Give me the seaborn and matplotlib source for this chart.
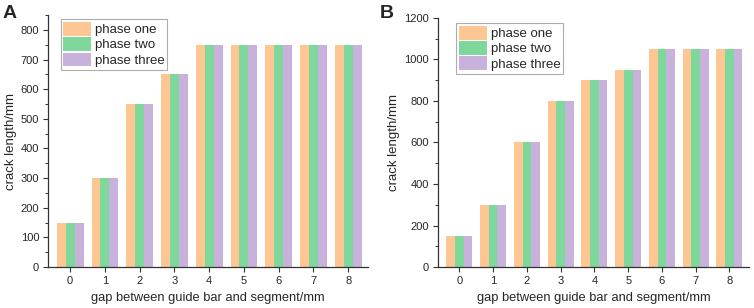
import matplotlib
matplotlib.use("Agg")
import matplotlib.pyplot as plt
import seaborn as sns
import pandas as pd
from matplotlib.ticker import MultipleLocator

# gap between guide bar and segment (mm)
gaps = [0, 1, 2, 3, 4, 5, 6, 7, 8]
phases = ['phase one', 'phase two', 'phase three']

# crack length (mm), the three phases coincide in both panels
crack_a = [150, 300, 550, 650, 750, 750, 750, 750, 750]
crack_b = [150, 300, 600, 800, 900, 950, 1050, 1050, 1050]

colors = ['#FDC692', '#7ED79B', '#C8B1DB']

sns.set_theme(style='ticks')
plt.rcParams['font.family'] = ['Liberation Sans', 'DejaVu Sans']


def long_df(values):
    rows = []
    for ph in phases:
        for g, v in zip(gaps, values):
            rows.append({'gap': g, 'phase': ph, 'length': v})
    return pd.DataFrame(rows)


fig = plt.figure(figsize=(7.54, 3.08), dpi=100)
ax_a = fig.add_axes([0.064, 0.133, 0.424, 0.818])
ax_b = fig.add_axes([0.581, 0.133, 0.412, 0.809])

panels = [
    (ax_a, crack_a, 850, 100, (0.035, 0.99)),
    (ax_b, crack_b, 1200, 200, (0.055, 0.985)),
]

for ax, vals, ymax, step, anchor in panels:
    df = long_df(vals)
    sns.barplot(data=df, x='gap', y='length', hue='phase', hue_order=phases,
                palette=colors, width=0.77, saturation=1, linewidth=0,
                ax=ax)
    ax.set_xlim(-0.63, 8.57)
    ax.set_ylim(0, ymax)
    ax.yaxis.set_major_locator(MultipleLocator(step))
    ax.yaxis.set_minor_locator(MultipleLocator(step / 2))
    sns.despine(ax=ax)
    for s in ['left', 'bottom']:
        ax.spines[s].set_linewidth(0.9)
        ax.spines[s].set_color('#333333')
    ax.tick_params(axis='both', which='major', labelsize=8, length=3.5,
                   width=0.8, color='#333333', pad=3)
    ax.tick_params(axis='y', which='minor', length=2, width=0.7, color='#333333')
    ax.set_xlabel('gap between guide bar and segment/mm', fontsize=9.3, labelpad=4)
    ax.set_ylabel('crack length/mm', fontsize=9.5, labelpad=3)
    leg = ax.legend(loc='upper left', bbox_to_anchor=anchor, fontsize=9.5,
                    frameon=True, fancybox=False, edgecolor='#999999',
                    handlelength=2.1, handleheight=1.25, handletextpad=0.3,
                    labelspacing=0.08, borderpad=0.2, borderaxespad=0.1)
    leg.get_frame().set_linewidth(0.8)

fig.text(0.003, 0.985, 'A', fontsize=14, fontweight='bold', va='top', ha='left')
fig.text(0.503, 0.985, 'B', fontsize=14, fontweight='bold', va='top', ha='left')

fig.savefig('out.png', dpi=100)
